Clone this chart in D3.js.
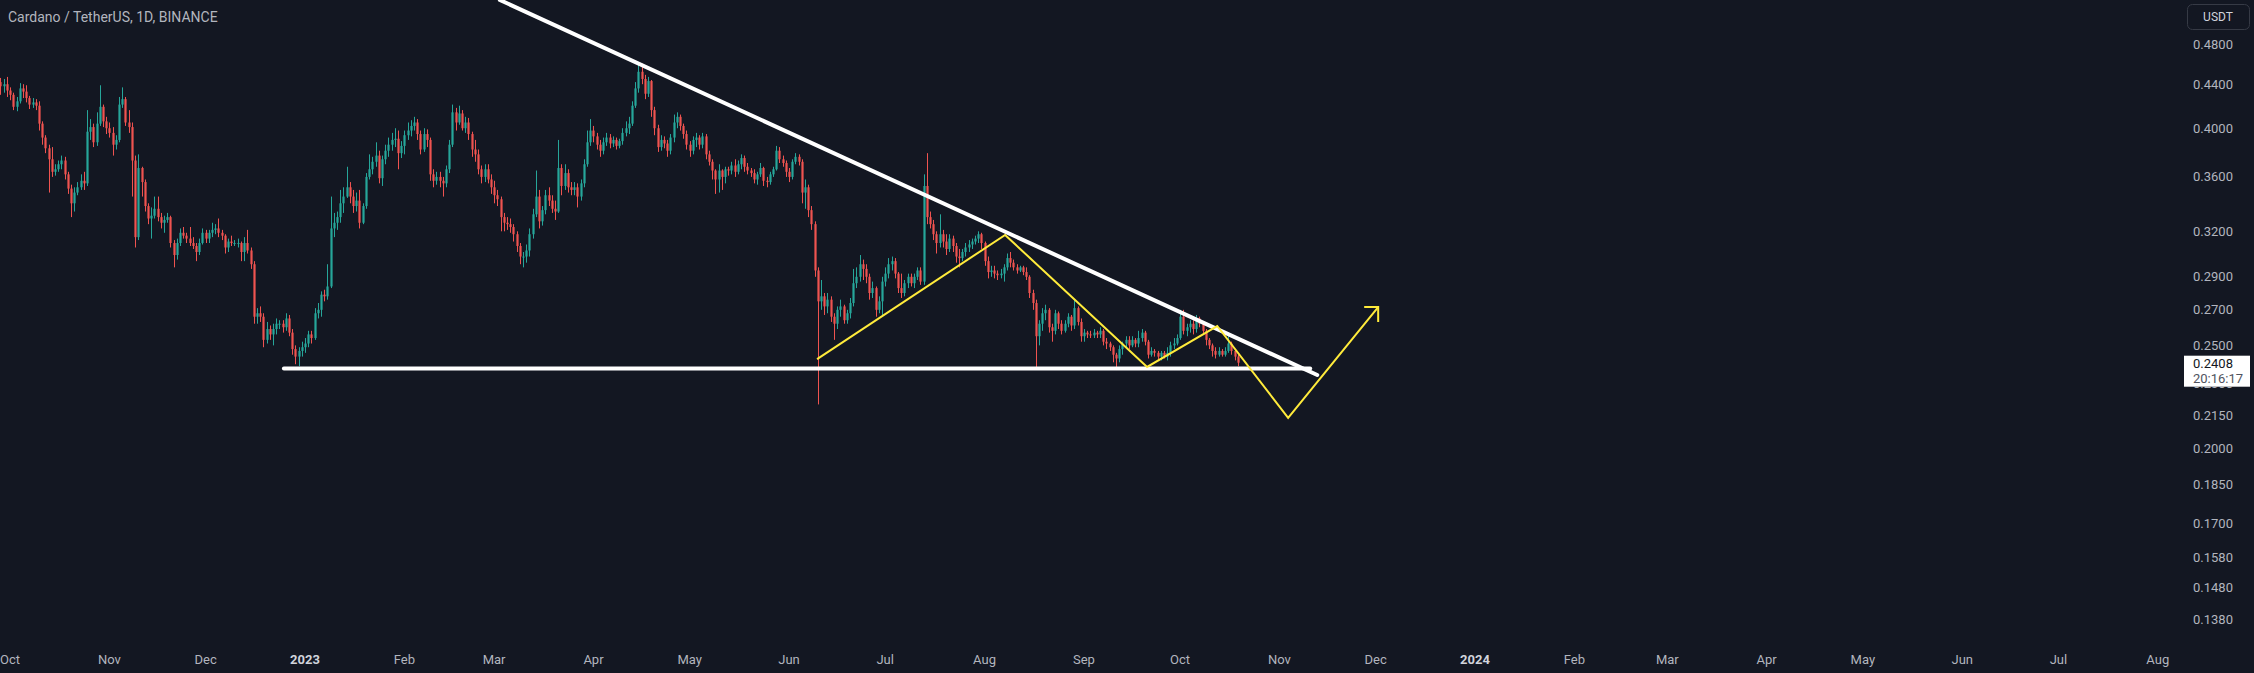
<!DOCTYPE html>
<html><head><meta charset="utf-8">
<script src="https://cdn.jsdelivr.net/npm/d3@7"></script>
<style>html,body{margin:0;padding:0;background:#131722;overflow:hidden}</style>
</head><body><svg id="c" width="2254" height="673"></svg>
<script>
// ---- data (ADA/USDT daily) ----
const startDate = "2022-09-28";
const firstOpen = 0.442;
const closes = [
 // Sep 28-30
 0.438,0.440,0.434,
 // Oct 2022
 0.430,0.419,0.424,0.436,0.433,0.427,0.421,0.423,0.420,0.404,0.392,0.383,0.374,0.364,0.366,0.370,0.373,0.362,0.351,0.340,0.348,0.352,0.357,0.355,0.397,0.401,0.388,0.404,0.419,0.406,0.400,
 // Nov 2022
 0.396,0.386,0.390,0.421,0.426,0.405,0.401,0.373,0.316,0.367,0.356,0.338,0.329,0.331,0.336,0.330,0.326,0.328,0.330,0.312,0.304,0.312,0.319,0.317,0.315,0.312,0.310,0.306,0.312,0.319,
 // Dec 2022
 0.315,0.319,0.321,0.322,0.319,0.317,0.309,0.313,0.312,0.312,0.312,0.306,0.312,0.307,0.298,0.266,0.268,0.266,0.253,0.259,0.256,0.259,0.262,0.262,0.260,0.265,0.257,0.248,0.244,0.247,0.249,
 // Jan 2023
 0.251,0.256,0.254,0.268,0.270,0.279,0.278,0.284,0.322,0.326,0.330,0.340,0.345,0.352,0.345,0.338,0.342,0.326,0.338,0.360,0.366,0.372,0.377,0.359,0.374,0.381,0.386,0.390,0.391,0.379,0.385,
 // Feb 2023
 0.394,0.398,0.402,0.405,0.395,0.382,0.395,0.390,0.362,0.357,0.360,0.357,0.355,0.366,0.386,0.414,0.405,0.413,0.400,0.405,0.395,0.382,0.378,0.366,0.360,0.366,0.358,0.352,
 // Mar 2023
 0.346,0.343,0.330,0.326,0.325,0.323,0.318,0.310,0.303,0.303,0.307,0.318,0.332,0.345,0.327,0.335,0.346,0.342,0.336,0.334,0.367,0.353,0.363,0.352,0.350,0.352,0.345,0.355,0.370,0.388,0.398,
 // Apr 2023
 0.393,0.386,0.381,0.388,0.392,0.387,0.390,0.385,0.389,0.396,0.400,0.404,0.420,0.436,0.452,0.445,0.431,0.443,0.416,0.400,0.384,0.390,0.387,0.381,0.392,0.405,0.410,0.402,0.395,0.386,
 // May 2023
 0.381,0.390,0.392,0.386,0.393,0.378,0.372,0.365,0.358,0.365,0.360,0.366,0.365,0.369,0.364,0.370,0.375,0.368,0.365,0.363,0.358,0.362,0.367,0.357,0.356,0.362,0.366,0.381,0.374,0.371,0.364,
 // Jun 2023
 0.360,0.372,0.376,0.372,0.348,0.352,0.335,0.325,0.294,0.275,0.278,0.272,0.276,0.266,0.262,0.270,0.272,0.264,0.268,0.274,0.286,0.290,0.298,0.295,0.290,0.280,0.283,0.270,0.275,0.287,
 // Jul 2023
 0.292,0.298,0.300,0.292,0.283,0.280,0.286,0.290,0.286,0.290,0.294,0.287,0.353,0.330,0.325,0.318,0.312,0.318,0.313,0.308,0.315,0.310,0.303,0.302,0.306,0.309,0.311,0.313,0.315,0.318,0.312,
 // Aug 2023
 0.300,0.293,0.294,0.292,0.291,0.292,0.296,0.302,0.299,0.296,0.294,0.296,0.293,0.290,0.280,0.274,0.255,0.262,0.268,0.270,0.260,0.258,0.268,0.262,0.258,0.262,0.266,0.261,0.271,0.263,0.255,
 // Sep 2023
 0.257,0.256,0.2555,0.257,0.256,0.258,0.252,0.251,0.249,0.245,0.243,0.248,0.251,0.253,0.250,0.253,0.251,0.254,0.257,0.252,0.245,0.247,0.246,0.244,0.246,0.244,0.246,0.250,0.251,0.254,
 // Oct 2023
 0.266,0.258,0.260,0.262,0.259,0.265,0.262,0.258,0.253,0.250,0.247,0.245,0.247,0.245,0.247,0.251,0.247,0.244,0.2408
];
const highs = [
 0.446,0.445,0.447,
 0.437,0.432,0.428,0.441,0.440,0.439,0.429,0.427,0.426,0.424,0.406,0.394,0.386,0.384,0.370,0.373,0.377,0.376,0.364,0.354,0.352,0.356,0.362,0.364,0.416,0.408,0.404,0.414,0.439,0.421,0.410,
 0.405,0.401,0.394,0.428,0.437,0.428,0.416,0.405,0.377,0.378,0.368,0.358,0.340,0.337,0.345,0.345,0.333,0.331,0.333,0.331,0.314,0.315,0.322,0.323,0.319,0.323,0.316,0.312,0.315,0.322,
 0.321,0.321,0.326,0.325,0.329,0.321,0.318,0.315,0.317,0.314,0.315,0.313,0.316,0.321,0.309,0.300,0.271,0.272,0.268,0.263,0.261,0.262,0.265,0.264,0.264,0.268,0.267,0.259,0.250,0.249,0.252,
 0.254,0.258,0.258,0.271,0.274,0.281,0.282,0.298,0.345,0.333,0.334,0.350,0.352,0.368,0.356,0.350,0.348,0.350,0.340,0.363,0.378,0.376,0.388,0.381,0.377,0.386,0.392,0.396,0.400,0.398,0.389,
 0.398,0.405,0.407,0.410,0.408,0.398,0.400,0.399,0.392,0.366,0.364,0.364,0.360,0.369,0.390,0.421,0.418,0.420,0.416,0.410,0.409,0.397,0.390,0.382,0.369,0.370,0.370,0.362,
 0.357,0.350,0.345,0.333,0.330,0.329,0.325,0.320,0.312,0.306,0.311,0.322,0.336,0.365,0.350,0.338,0.350,0.352,0.346,0.342,0.390,0.370,0.370,0.366,0.356,0.356,0.355,0.358,0.374,0.398,0.408,
 0.402,0.396,0.390,0.392,0.396,0.395,0.393,0.392,0.391,0.400,0.406,0.410,0.424,0.442,0.459,0.460,0.449,0.447,0.444,0.419,0.403,0.394,0.393,0.390,0.395,0.412,0.414,0.412,0.404,0.398,
 0.389,0.393,0.396,0.394,0.396,0.395,0.381,0.374,0.366,0.370,0.366,0.368,0.368,0.372,0.374,0.373,0.378,0.377,0.371,0.367,0.366,0.364,0.371,0.368,0.360,0.364,0.368,0.385,0.384,0.377,0.373,
 0.367,0.374,0.379,0.378,0.374,0.358,0.354,0.338,0.327,0.296,0.288,0.280,0.280,0.278,0.268,0.272,0.276,0.273,0.270,0.277,0.295,0.296,0.304,0.301,0.298,0.292,0.287,0.284,0.278,0.290,
 0.296,0.302,0.303,0.302,0.293,0.292,0.288,0.292,0.292,0.292,0.296,0.296,0.362,0.379,0.334,0.328,0.320,0.332,0.321,0.318,0.318,0.317,0.312,0.308,0.308,0.312,0.314,0.315,0.317,0.320,0.319,
 0.313,0.303,0.297,0.297,0.294,0.295,0.298,0.305,0.306,0.301,0.298,0.297,0.297,0.296,0.291,0.282,0.276,0.264,0.271,0.273,0.271,0.262,0.270,0.269,0.264,0.264,0.268,0.267,0.276,0.272,0.265,
 0.259,0.258,0.258,0.259,0.258,0.260,0.259,0.254,0.252,0.250,0.246,0.250,0.252,0.255,0.255,0.255,0.254,0.258,0.259,0.258,0.253,0.249,0.248,0.247,0.247,0.247,0.249,0.252,0.254,0.256,
 0.270,0.270,0.262,0.264,0.264,0.267,0.266,0.263,0.259,0.254,0.251,0.249,0.249,0.248,0.249,0.257,0.252,0.248,0.245
];
const lows = [
 0.430,0.432,0.428,
 0.425,0.416,0.415,0.422,0.427,0.423,0.417,0.418,0.416,0.398,0.386,0.379,0.348,0.360,0.361,0.364,0.366,0.358,0.347,0.330,0.334,0.346,0.350,0.350,0.353,0.390,0.384,0.385,0.402,0.401,0.395,
 0.392,0.377,0.382,0.388,0.418,0.402,0.396,0.345,0.309,0.314,0.345,0.334,0.325,0.315,0.329,0.327,0.322,0.319,0.326,0.309,0.296,0.301,0.310,0.315,0.312,0.310,0.308,0.300,0.304,0.311,
 0.312,0.312,0.316,0.318,0.316,0.314,0.305,0.306,0.310,0.310,0.309,0.300,0.300,0.305,0.295,0.262,0.262,0.263,0.249,0.251,0.253,0.250,0.256,0.259,0.257,0.258,0.255,0.245,0.240,0.239,0.244,
 0.246,0.249,0.251,0.253,0.265,0.266,0.275,0.276,0.283,0.316,0.321,0.326,0.333,0.344,0.340,0.333,0.334,0.322,0.325,0.336,0.358,0.362,0.368,0.355,0.353,0.370,0.376,0.381,0.384,0.366,0.375,
 0.378,0.390,0.393,0.398,0.390,0.378,0.380,0.384,0.357,0.352,0.354,0.352,0.345,0.352,0.363,0.384,0.398,0.403,0.398,0.396,0.390,0.376,0.372,0.362,0.355,0.356,0.355,0.347,
 0.340,0.338,0.320,0.320,0.321,0.319,0.313,0.306,0.298,0.296,0.299,0.303,0.315,0.330,0.322,0.324,0.332,0.338,0.333,0.328,0.333,0.346,0.350,0.348,0.346,0.346,0.337,0.342,0.352,0.368,0.385,
 0.388,0.382,0.376,0.378,0.385,0.383,0.384,0.382,0.383,0.386,0.393,0.395,0.402,0.418,0.432,0.440,0.426,0.428,0.410,0.394,0.380,0.381,0.383,0.376,0.378,0.388,0.400,0.398,0.391,0.382,
 0.376,0.378,0.384,0.382,0.383,0.374,0.369,0.358,0.347,0.348,0.350,0.355,0.361,0.362,0.360,0.362,0.366,0.364,0.362,0.360,0.355,0.354,0.360,0.353,0.352,0.354,0.360,0.365,0.371,0.368,0.360,
 0.356,0.358,0.370,0.369,0.340,0.336,0.330,0.321,0.290,0.220,0.270,0.267,0.268,0.263,0.253,0.259,0.266,0.262,0.262,0.265,0.272,0.283,0.287,0.288,0.286,0.276,0.277,0.266,0.268,0.266,
 0.284,0.289,0.294,0.289,0.280,0.277,0.278,0.283,0.284,0.283,0.288,0.285,0.285,0.325,0.322,0.314,0.305,0.309,0.309,0.304,0.306,0.306,0.299,0.296,0.300,0.303,0.306,0.308,0.311,0.312,0.308,
 0.297,0.289,0.290,0.289,0.288,0.289,0.287,0.294,0.296,0.294,0.292,0.293,0.291,0.288,0.277,0.270,0.238,0.250,0.258,0.264,0.257,0.252,0.256,0.259,0.256,0.257,0.260,0.258,0.259,0.261,0.252,
 0.252,0.254,0.254,0.254,0.254,0.254,0.250,0.248,0.247,0.241,0.237,0.241,0.245,0.249,0.248,0.249,0.249,0.249,0.252,0.250,0.243,0.244,0.244,0.242,0.242,0.243,0.242,0.244,0.248,0.250,
 0.253,0.256,0.255,0.257,0.256,0.257,0.260,0.256,0.250,0.248,0.244,0.243,0.244,0.244,0.244,0.246,0.245,0.242,0.239
];
const priceTicks = [0.48,0.44,0.40,0.36,0.32,0.29,0.27,0.25,0.23,0.215,0.20,0.185,0.17,0.158,0.148,0.138];
const timeTickDates  = ["2022-10-01","2022-11-01","2022-12-01","2023-01-01","2023-02-01","2023-03-01","2023-04-01","2023-05-01","2023-06-01","2023-07-01","2023-08-01","2023-09-01","2023-10-01","2023-11-01","2023-12-01","2024-01-01","2024-02-01","2024-03-01","2024-04-01","2024-05-01","2024-06-01","2024-07-01","2024-08-01"];
const timeTickLabels = ["Oct","Nov","Dec","2023","Feb","Mar","Apr","May","Jun","Jul","Aug","Sep","Oct","Nov","Dec","2024","Feb","Mar","Apr","May","Jun","Jul","Aug"];
const trendLine   = [["2023-03-02T19:00Z",0.528],["2023-11-12T19:00Z",0.2345]];
const supportLine = [["2022-12-25T10:00Z",0.2378],["2023-11-10T14:00Z",0.2378]];
const projection  = [["2023-06-09T18:00Z",0.2427],["2023-08-07T10:00Z",0.3175],["2023-09-20T17:00Z",0.2386],["2023-10-12T14:00Z",0.2607],["2023-11-03T17:00Z",0.2137],["2023-12-01T19:00Z",0.2716]];
const title = "Cardano / TetherUS, 1D, BINANCE";
const lastPrice = 0.2408;
const countdown = "20:16:17";
const currency = "USDT";

// ---- drawing ----
const W = 2254, H = 673;
const svg = d3.select("#c");
svg.append("rect").attr("width",W).attr("height",H).attr("fill","#131722");

const x = d3.scaleUtc()
  .domain([new Date("2023-01-01T00:00:00Z"), new Date("2024-01-01T00:00:00Z")])
  .range([305, 1475]);
const y = d3.scaleLog().domain([0.48, 0.138]).range([44, 619.9]);

const DAY = 86400000;
const t0 = new Date(startDate + "T00:00:00Z").getTime();
const candles = closes.map((c,i)=>{
  const o = i===0 ? firstOpen : closes[i-1];
  return {date:new Date(t0 + i*DAY), o, c, h:Math.max(highs[i],o,c), l:Math.min(lows[i],o,c)};
});

const UP = "#26a69a", DOWN = "#ef5350";
const plot = svg.append("g");
const cg = plot.selectAll("g.cd").data(candles).join("g");
cg.append("line")
  .attr("x1",d=>Math.round(x(d.date))+0.5).attr("x2",d=>Math.round(x(d.date))+0.5)
  .attr("y1",d=>y(d.h)).attr("y2",d=>y(d.l))
  .attr("stroke",d=>d.c>=d.o?UP:DOWN).attr("stroke-width",1);
cg.append("rect")
  .attr("x",d=>Math.round(x(d.date))+0.5-1.1).attr("width",2.2)
  .attr("y",d=>Math.min(y(d.o),y(d.c)))
  .attr("height",d=>Math.max(1,Math.abs(y(d.o)-y(d.c))))
  .attr("fill",d=>d.c>=d.o?UP:DOWN);

const pt = p=>[x(new Date(p[0])), y(p[1])];
const lineGen = d3.line();
plot.append("path").attr("d",lineGen(supportLine.map(pt)))
  .attr("stroke","#ffffff").attr("stroke-width",4).attr("fill","none").attr("stroke-linecap","round");
plot.append("path").attr("d",lineGen(trendLine.map(pt)))
  .attr("stroke","#ffffff").attr("stroke-width",4).attr("fill","none").attr("stroke-linecap","round");
const proj = projection.map(pt);
plot.append("path").attr("d",lineGen(proj))
  .attr("stroke","#ffeb3b").attr("stroke-width",2).attr("fill","none").attr("stroke-linejoin","miter");
const tip = proj[proj.length-1];
plot.append("path").attr("d",lineGen([[tip[0]-14,tip[1]],tip,[tip[0],tip[1]+15]]))
  .attr("stroke","#ffeb3b").attr("stroke-width",2).attr("fill","none");

// last price tag geometry
const ly = y(lastPrice);
const tagTop = ly-7, tagH = 31;

// price axis (labels hidden by the tag are clipped below it)
const font = "Roboto, 'Noto Sans', sans-serif";
svg.append("clipPath").attr("id","belowTag").append("rect")
  .attr("x",2150).attr("y",tagTop+tagH).attr("width",104).attr("height",40);
svg.append("g").selectAll("text").data(priceTicks).join("text")
  .attr("x",2193).attr("y",d=>y(d)).attr("dy","0.35em")
  .attr("clip-path",d=>{const yy=y(d);return (yy>tagTop-6 && yy<tagTop+tagH+6)?"url(#belowTag)":null;})
  .attr("fill","#b2b5be").attr("font-family",font).attr("font-size",13)
  .text(d=>d.toFixed(4));

// time axis
svg.append("g").selectAll("text").data(timeTickDates).join("text")
  .attr("x",d=>x(new Date(d+"T00:00:00Z"))).attr("y",659).attr("dy","0.35em")
  .attr("text-anchor","middle")
  .attr("fill",(d,i)=>/^\d{4}$/.test(timeTickLabels[i])?"#d1d4dc":"#b2b5be")
  .attr("font-weight",(d,i)=>/^\d{4}$/.test(timeTickLabels[i])?"bold":"normal")
  .attr("font-family",font).attr("font-size",13)
  .text((d,i)=>timeTickLabels[i]);

// last price tag
svg.append("rect").attr("x",2184).attr("y",tagTop).attr("width",66).attr("height",tagH).attr("fill","#ffffff");
svg.append("text").attr("x",2193).attr("y",ly+1).attr("dy","0.35em").attr("fill","#131722")
  .attr("font-family",font).attr("font-size",13).text(lastPrice.toFixed(4));
svg.append("text").attr("x",2193).attr("y",ly+16).attr("dy","0.35em").attr("fill","#50535e")
  .attr("font-family",font).attr("font-size",13).text(countdown);

// currency button
svg.append("rect").attr("x",2187.5).attr("y",4.5).attr("width",62).attr("height",25).attr("rx",5)
  .attr("fill","#131722").attr("stroke","#363a45");
svg.append("text").attr("x",2218).attr("y",17).attr("dy","0.35em").attr("text-anchor","middle")
  .attr("fill","#d1d4dc").attr("font-family",font).attr("font-size",12).text(currency);

// title
svg.append("text").attr("x",8).attr("y",17).attr("dy","0.35em")
  .attr("fill","#b2b5be").attr("font-family",font).attr("font-size",14).text(title);
</script></body></html>
